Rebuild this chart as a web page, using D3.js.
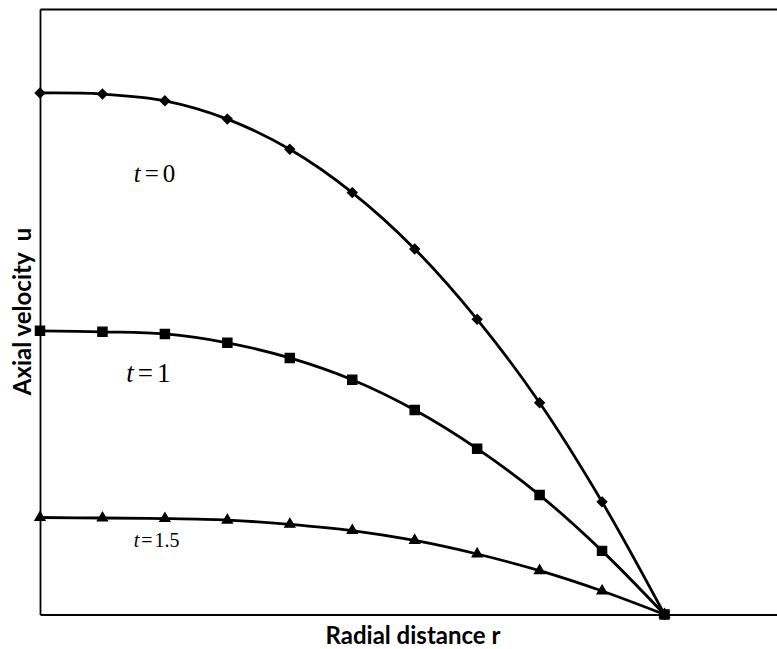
<!DOCTYPE html>
<html>
<head>
<meta charset="utf-8">
<script src="https://cdn.jsdelivr.net/npm/d3@7"></script>
<style>
    body { margin: 0; background: #fff; }
    svg { display: block; }
</style>
</head>
<body>
<svg id="chart" width="777" height="649"></svg>
<script>
// radial positions r
const radius = [0, 0.1, 0.2, 0.3, 0.4, 0.5, 0.6, 0.7, 0.8, 0.9, 1.0];

// axial velocity u for each time
const uT0 = [1.0, 0.998, 0.985, 0.950, 0.892, 0.809, 0.701, 0.566, 0.406, 0.216, 0];
const uT1 = [0.544, 0.542, 0.538, 0.521, 0.492, 0.450, 0.392, 0.318, 0.229, 0.122, 0];
const uT15 = [0.186, 0.185, 0.184, 0.181, 0.173, 0.161, 0.142, 0.116, 0.084, 0.045, 0];

const seriesLabels = ['t = 0', 't = 1', 't = 1.5'];
const seriesSymbols = ['diamond', 'square', 'triangle'];

document.addEventListener('DOMContentLoaded', function() {
    const svg = d3.select('#chart');
    const width = +svg.attr('width');
    const height = +svg.attr('height');
    const margin = { top: 9, right: 0, bottom: 34.5, left: 40 };
    const chartWidth = width - margin.left - margin.right;
    const chartHeight = height - margin.top - margin.bottom;

    const xScale = d3.scaleLinear().domain([0, chartWidth / 624.5]).range([0, chartWidth]);
    const yScale = d3.scaleLinear().domain([0, chartHeight / 521.5]).range([chartHeight, 0]);

    const g = svg.append('g')
        .attr('transform', `translate(${margin.left},${margin.top})`);

    // frame: top, left, bottom (no ticks)
    const axisStyle = sel => sel.select('.domain').attr('stroke', '#000').attr('stroke-width', 1.8);
    g.append('g').call(d3.axisTop(xScale).ticks(0).tickSizeOuter(0)).call(axisStyle);
    g.append('g').call(d3.axisLeft(yScale).ticks(0).tickSizeOuter(0)).call(axisStyle);
    g.append('g')
        .attr('transform', `translate(0,${chartHeight})`)
        .call(d3.axisBottom(xScale).ticks(0).tickSizeOuter(0)).call(axisStyle);

    const series = [uT0, uT1, uT15].map((vals, i) => ({
        label: seriesLabels[i],
        symbol: seriesSymbols[i],
        points: radius.map((r, j) => ({ r: r, u: vals[j] }))
    }));

    const line = d3.line()
        .x(d => xScale(d.r))
        .y(d => yScale(d.u))
        .curve(d3.curveCatmullRom.alpha(0.5));

    g.selectAll('.curve')
        .data(series)
        .enter().append('path')
        .attr('class', 'curve')
        .attr('d', d => line(d.points))
        .attr('fill', 'none')
        .attr('stroke', '#000')
        .attr('stroke-width', 2.8);

    const symbolTypes = {
        diamond: d3.symbol().type(d3.symbolDiamond2).size(60),
        square: d3.symbol().type(d3.symbolSquare2).size(110),
        triangle: d3.symbol().type(d3.symbolTriangle2).size(75)
    };

    series.forEach(s => {
        g.selectAll(null)
            .data(s.points)
            .enter().append('path')
            .attr('d', symbolTypes[s.symbol])
            .attr('transform', d => `translate(${xScale(d.r)},${yScale(d.u)})`)
            .attr('fill', '#000')
            .attr('stroke', '#000')
            .attr('stroke-width', 1.2);
    });

    // curve annotations (italic t, Times), anchored at their left edge
    const notes = [
        { label: seriesLabels[0], r: 0.150, u: 0.829, size: 25, gap: 4 },
        { label: seriesLabels[1], r: 0.138, u: 0.446, size: 27, gap: 4 },
        { label: seriesLabels[2], r: 0.150, u: 0.130, size: 20, gap: 2 }
    ];
    notes.forEach(n => {
        const parts = n.label.split(' = ');
        const t = g.append('text')
            .attr('x', xScale(n.r))
            .attr('y', yScale(n.u))
            .attr('font-family', '"Liberation Serif", "Times New Roman", serif')
            .attr('font-size', n.size + 'px')
            .attr('fill', '#000');
        t.append('tspan').attr('font-style', 'italic').text(parts[0]);
        t.append('tspan').attr('dx', n.gap).text('=');
        t.append('tspan').attr('dx', n.gap).text(parts[1]);
    });

    // axis titles
    svg.append('text')
        .attr('x', 413)
        .attr('y', 644)
        .attr('text-anchor', 'middle')
        .attr('font-family', 'Lato, "Open Sans", sans-serif')
        .attr('font-weight', 'bold')
        .attr('font-size', '24px')
        .attr('fill', '#000')
        .text('Radial distance r');

    svg.append('text')
        .attr('transform', 'translate(31,311.5) rotate(-90)')
        .attr('text-anchor', 'middle')
        .attr('font-family', 'Lato, "Open Sans", sans-serif')
        .attr('font-weight', 'bold')
        .attr('font-size', '24px')
        .attr('fill', '#000')
        .style('white-space', 'pre')
        .text('Axial velocity  u');
});
</script>
</body>
</html>
